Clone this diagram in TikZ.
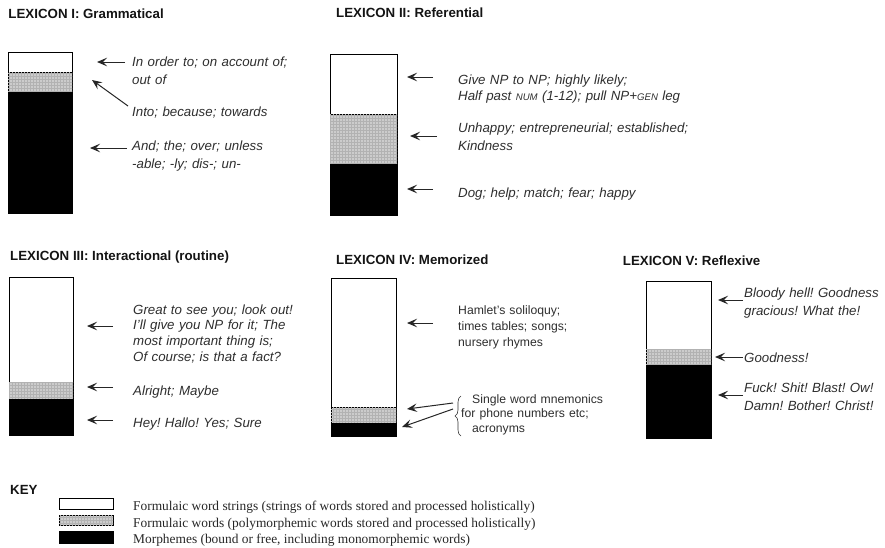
\documentclass[tikz,border=0pt]{standalone}
\usepackage{fontspec}
\setmainfont{Liberation Serif}
\newfontfamily\arialfont{Liberation Sans}
\usetikzlibrary{arrows.meta,decorations.pathreplacing,patterns}
% reduced capitals for glossing labels
\newcommand\fakesc[1]{{\fontsize{9.6}{10}\selectfont #1}}
\frenchspacing

\begin{document}
\begin{tikzpicture}[x=1pt,y=-1pt,
  seg/.style={draw=black, line width=0.8pt, inner sep=0pt, outer sep=0pt, anchor=north west},
  wordstr/.style={seg, fill=white},
  polymorph/.style={seg, fill=black!20, postaction={pattern=grid, pattern color=black!30}},
  morph/.style={seg, fill=black},
  title/.style={font=\arialfont\bfseries\fontsize{13.3}{16}\selectfont, anchor=base west, inner sep=0pt, text=black!92},
  ex/.style={font=\arialfont\itshape\fontsize{13.3}{#1}\selectfont, anchor=base west, inner sep=0pt,
             text=black!82, align=left, text width=280pt},
  ex/.default=17.5,
  exup/.style={font=\arialfont\fontsize{12.2}{#1}\selectfont, anchor=base west, inner sep=0pt,
             text=black!82, align=left, text width=200pt},
  exup/.default=16,
  keytext/.style={font=\fontsize{13.4}{16}\selectfont, anchor=base west, inner sep=0pt, text=black!85},
  ptr/.style={-{Stealth[length=10pt,width=8.5pt,inset=4pt]}, line width=1pt, draw=black!85},
]
\useasboundingbox (0,0) rectangle (885,547);

% ---------------- Lexicon I ----------------
\node[title] (t1) at (8.3,18) {LEXICON I: Grammatical};
\node[wordstr,  minimum width=64pt, minimum height=20pt]  (s1a) at (8,52) {};
\node[polymorph,minimum width=64pt, minimum height=20pt]  (s1b) at (8,72) {};
\node[morph,    minimum width=64pt, minimum height=121pt] (s1c) at (8,92) {};
\node[ex=18] (e1a) at (132,66.7) {In order to; on account of;\\out of};
\node[ex]    (e1b) at (132,116.7) {Into; because; towards};
\node[ex=18] (e1c) at (132,150.7) {And; the; over; unless\\-able; -ly; dis-; un-};
\coordinate (p1a) at (125,62);  \coordinate (q1a) at (97,62);
\coordinate (p1b) at (128,106); \coordinate (q1b) at (92,80);
\coordinate (p1c) at (127,148); \coordinate (q1c) at (90,148);
\draw[ptr] (p1a) -- (q1a);
\draw[ptr] (p1b) -- (q1b);
\draw[ptr] (p1c) -- (q1c);

% ---------------- Lexicon II ----------------
\node[title] (t2) at (336,17.5) {LEXICON II: Referential};
\node[wordstr,  minimum width=67pt, minimum height=60pt] (s2a) at (330,54) {};
\node[polymorph,minimum width=67pt, minimum height=50pt] (s2b) at (330,114) {};
\node[morph,    minimum width=67pt, minimum height=51pt] (s2c) at (330,164) {};
\node[ex=16] (e2a) at (458,84) {Give NP to NP; highly likely;\\Half past \fakesc{NUM} (1-12); pull NP+\fakesc{GEN} leg};
\node[ex=17.7] (e2b) at (458,132.3) {Unhappy; entrepreneurial; established;\\Kindness};
\node[ex]    (e2c) at (458,197.7) {Dog; help; match; fear; happy};
\coordinate (p2a) at (433,77);  \coordinate (q2a) at (407,77);
\coordinate (p2b) at (437,136); \coordinate (q2b) at (410,136);
\coordinate (p2c) at (433,189); \coordinate (q2c) at (407,189);
\draw[ptr] (p2a) -- (q2a);
\draw[ptr] (p2b) -- (q2b);
\draw[ptr] (p2c) -- (q2c);

% ---------------- Lexicon III ----------------
\node[title] (t3) at (10,260) {LEXICON III: Interactional (routine)};
\node[wordstr,  minimum width=64pt, minimum height=105pt] (s3a) at (9,277) {};
\node[polymorph,minimum width=64pt, minimum height=17pt]  (s3b) at (9,382) {};
\node[morph,    minimum width=64pt, minimum height=36pt]  (s3c) at (9,399) {};
\node[ex=15.9] (e3a) at (133,314) {Great to see you; look out!\\I’ll give you NP for it; The\\most important thing is;\\Of course; is that a fact?};
\node[ex] (e3b) at (133,395) {Alright; Maybe};
\node[ex] (e3c) at (133,427) {Hey! Hallo! Yes; Sure};
\coordinate (p3a) at (113,326); \coordinate (q3a) at (87,326);
\coordinate (p3b) at (113,387); \coordinate (q3b) at (87,387);
\coordinate (p3c) at (113,420); \coordinate (q3c) at (87,420);
\draw[ptr] (p3a) -- (q3a);
\draw[ptr] (p3b) -- (q3b);
\draw[ptr] (p3c) -- (q3c);

% ---------------- Lexicon IV ----------------
\node[title] (t4) at (336,264) {LEXICON IV: Memorized};
\node[wordstr,  minimum width=65pt, minimum height=129pt] (s4a) at (331,278) {};
\node[polymorph,minimum width=65pt, minimum height=16pt]  (s4b) at (331,407) {};
\node[morph,    minimum width=65pt, minimum height=13pt]  (s4c) at (331,423) {};
\node[exup=16] (e4a) at (458,314) {Hamlet’s soliloquy;\\times tables; songs;\\nursery rhymes};
\node[exup=14.5] (e4b) at (461,403) {\hspace{11pt}Single word mnemonics\\for phone numbers etc;\\\hspace{11pt}acronyms};
\draw[decorate, decoration={brace, amplitude=6pt}, line width=0.6pt, black!80] (461,436) -- (461,396);
\coordinate (p4a) at (433,323); \coordinate (q4a) at (407,323);
\coordinate (p4b) at (453,403); \coordinate (q4b) at (407,409);
\coordinate (p4c) at (453,409); \coordinate (q4c) at (402,427);
\draw[ptr] (p4a) -- (q4a);
\draw[ptr] (p4b) -- (q4b);
\draw[ptr] (p4c) -- (q4c);

% ---------------- Lexicon V ----------------
\node[title] (t5) at (622.7,265) {LEXICON V: Reflexive};
\node[wordstr,  minimum width=65pt, minimum height=68pt] (s5a) at (646,281) {};
\node[polymorph,minimum width=65pt, minimum height=16pt] (s5b) at (646,349) {};
\node[morph,    minimum width=65pt, minimum height=73pt] (s5c) at (646,365) {};
\node[ex=17.7] (e5a) at (744,297.3) {Bloody hell! Goodness\\gracious! What the!};
\node[ex]      (e5b) at (744,362.3) {Goodness!};
\node[ex=17.7] (e5c) at (744,392.3) {Fuck! Shit! Blast! Ow!\\Damn! Bother! Christ!};
\coordinate (p5a) at (743,300); \coordinate (q5a) at (718,300);
\coordinate (p5b) at (743,357); \coordinate (q5b) at (715,357);
\coordinate (p5c) at (743,395); \coordinate (q5c) at (718,395);
\draw[ptr] (p5a) -- (q5a);
\draw[ptr] (p5b) -- (q5b);
\draw[ptr] (p5c) -- (q5c);

% ---------------- Key ----------------
\node[title] (tk) at (10,494) {KEY};
\node[wordstr,  minimum width=54pt, minimum height=11pt] (k1) at (59,498) {};
\node[polymorph,minimum width=54pt, minimum height=10pt] (k2) at (59,515) {};
\node[morph,    minimum width=54pt, minimum height=12pt] (k3) at (59,531) {};
\node[keytext] (kt1) at (133,510.5) {Formulaic word strings (strings of words stored and processed holistically)};
\node[keytext] (kt2) at (133,527)   {Formulaic words (polymorphemic words stored and processed holistically)};
\node[keytext] (kt3) at (133,543.5) {Morphemes (bound or free, including monomorphemic words)};
\end{tikzpicture}
\end{document}
